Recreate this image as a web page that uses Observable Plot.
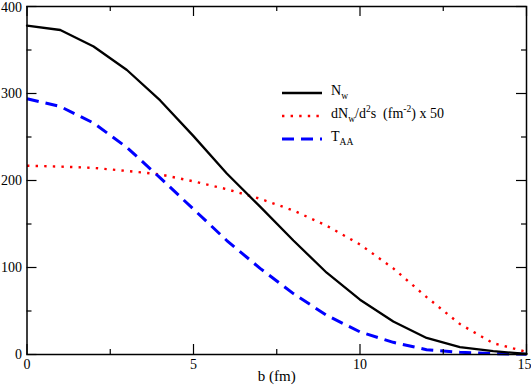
<!DOCTYPE html>
<html><head><meta charset="utf-8">
<script src="https://cdn.jsdelivr.net/npm/d3@7"></script>
<script src="https://cdn.jsdelivr.net/npm/@observablehq/plot@0.6"></script>
<style>
body{margin:0;background:#fff;}
#wrap{position:relative;width:531px;height:388px;font-family:'Liberation Serif','Times New Roman',serif;}
#wrap svg, #wrap svg text{font-family:'Liberation Serif','Times New Roman',serif !important;}
#legend{position:absolute;left:281px;top:80px;font-size:14px;color:#000;}
#legend .row{position:relative;height:23px;white-space:nowrap;}
#legend svg{position:absolute;left:0;top:0;}
#legend .lab{position:absolute;left:50px;top:4px;line-height:14px;}
sub{font-size:9.5px;vertical-align:-4px;line-height:0;}
sup{font-size:9.5px;vertical-align:6px;line-height:0;}
</style></head><body><div id="wrap"></div>
<script>
const b    = [0,1,2,3,4,5,6,7,8,9,10,11,12,13,14,15];
const nw   = [378,373,354,327,292,251,208,170,131,94,63,38,19,8.5,3.8,0.6];
const dnw  = [217,216,214.5,211,207,199,190,179,165.5,148,126.5,99,66,35,13,3];
const taa  = [294,285,266,238,203,167,131,99,70,45,26,14,5.5,2.5,1,0.3];
const xMajor = [0,5,10,15];
const xMinor = [2.5,7.5,12.5];
const yMajor = [0,100,200,300,400];
const yMinor = [50,150,250,350];
const seriesNames = ["N_w","dN_w/d^2s (fm^-2) x 50","T_AA"];

const W = 531, H = 388, mt = 6, mb = 34, ml = 26.5, mr = 5;
const ph = H - mt - mb, pw = W - ml - mr;
const serif = "'Liberation Serif','Times New Roman',serif";

const rows = (vals, s) => b.map((x, i) => ({b: x, v: vals[i], s}));

const chart = Plot.plot({
  width: W, height: H,
  marginTop: mt, marginBottom: mb, marginLeft: ml, marginRight: mr,
  style: {fontFamily: serif, fontSize: "14px", color: "#000", background: "#fff", overflow: "visible"},
  x: {domain: [0, 15]},
  y: {domain: [0, 400]},
  marks: [
    Plot.line(rows(dnw, seriesNames[1]), {x: "b", y: "v", stroke: "#ff0000", strokeWidth: 2.4, strokeDasharray: "2.4,6.2", strokeLinecap: "butt"}),
    Plot.line(rows(taa, seriesNames[2]), {x: "b", y: "v", stroke: "#0000ff", strokeWidth: 3, strokeDasharray: "12,7", strokeLinecap: "butt"}),
    Plot.line(rows(nw, seriesNames[0]), {x: "b", y: "v", stroke: "#000", strokeWidth: 2.3}),
    Plot.tickX(xMajor, {x: d => d, insetTop: ph - 10, strokeWidth: 1.2}),
    Plot.tickX(xMinor, {x: d => d, insetTop: ph - 5, strokeWidth: 1.2}),
    Plot.tickX(xMajor, {x: d => d, insetBottom: ph - 10, strokeWidth: 1.2}),
    Plot.tickX(xMinor, {x: d => d, insetBottom: ph - 5, strokeWidth: 1.2}),
    Plot.tickY(yMajor, {y: d => d, insetRight: pw - 10, strokeWidth: 1.2}),
    Plot.tickY(yMinor, {y: d => d, insetRight: pw - 5, strokeWidth: 1.2}),
    Plot.tickY(yMajor, {y: d => d, insetLeft: pw - 10, strokeWidth: 1.2}),
    Plot.tickY(yMinor, {y: d => d, insetLeft: pw - 5, strokeWidth: 1.2}),
    Plot.axisX({ticks: xMajor.slice(0, -1), tickSize: 0, tickPadding: 5, label: null, fontSize: 14, fontFamily: serif}),
    Plot.axisX({ticks: xMajor.slice(-1), tickSize: 0, tickPadding: 5, label: null, fontSize: 14, fontFamily: serif, dx: -2}),
    Plot.axisY({ticks: yMajor.slice(0, -1), tickSize: 0, tickPadding: 5, label: null, fontSize: 14, fontFamily: serif}),
    Plot.axisY({ticks: yMajor.slice(-1), tickSize: 0, tickPadding: 5, label: null, fontSize: 14, fontFamily: serif, dy: 1.5}),
    Plot.text(["b (fm)"], {frameAnchor: "bottom", dy: 26, fontSize: 15, fontFamily: serif}),
    Plot.frame({stroke: "#000", strokeWidth: 1.5})
  ]
});
const wrap = document.getElementById("wrap");
wrap.appendChild(chart);

const legend = document.createElement("div");
legend.id = "legend";
const items = [
  {stroke: "#000", w: 2.3, dash: null, html: "N<sub>w</sub>"},
  {stroke: "#ff0000", w: 2.4, dash: "2.4,6.2", html: "dN<sub>w</sub>/d<sup>2</sup>s&nbsp;&nbsp;(fm<sup>-2</sup>) x 50"},
  {stroke: "#0000ff", w: 3, dash: "12,7", html: "T<sub>AA</sub>"}
];
for (const it of items) {
  const row = document.createElement("div");
  row.className = "row";
  row.innerHTML = `<svg width="42" height="26"><line x1="1" x2="41" y1="13" y2="13" stroke="${it.stroke}" stroke-width="${it.w}" ${it.dash ? `stroke-dasharray="${it.dash}"` : ""}/></svg><span class="lab">${it.html}</span>`;
  legend.appendChild(row);
}
wrap.appendChild(legend);
</script>
</body></html>
